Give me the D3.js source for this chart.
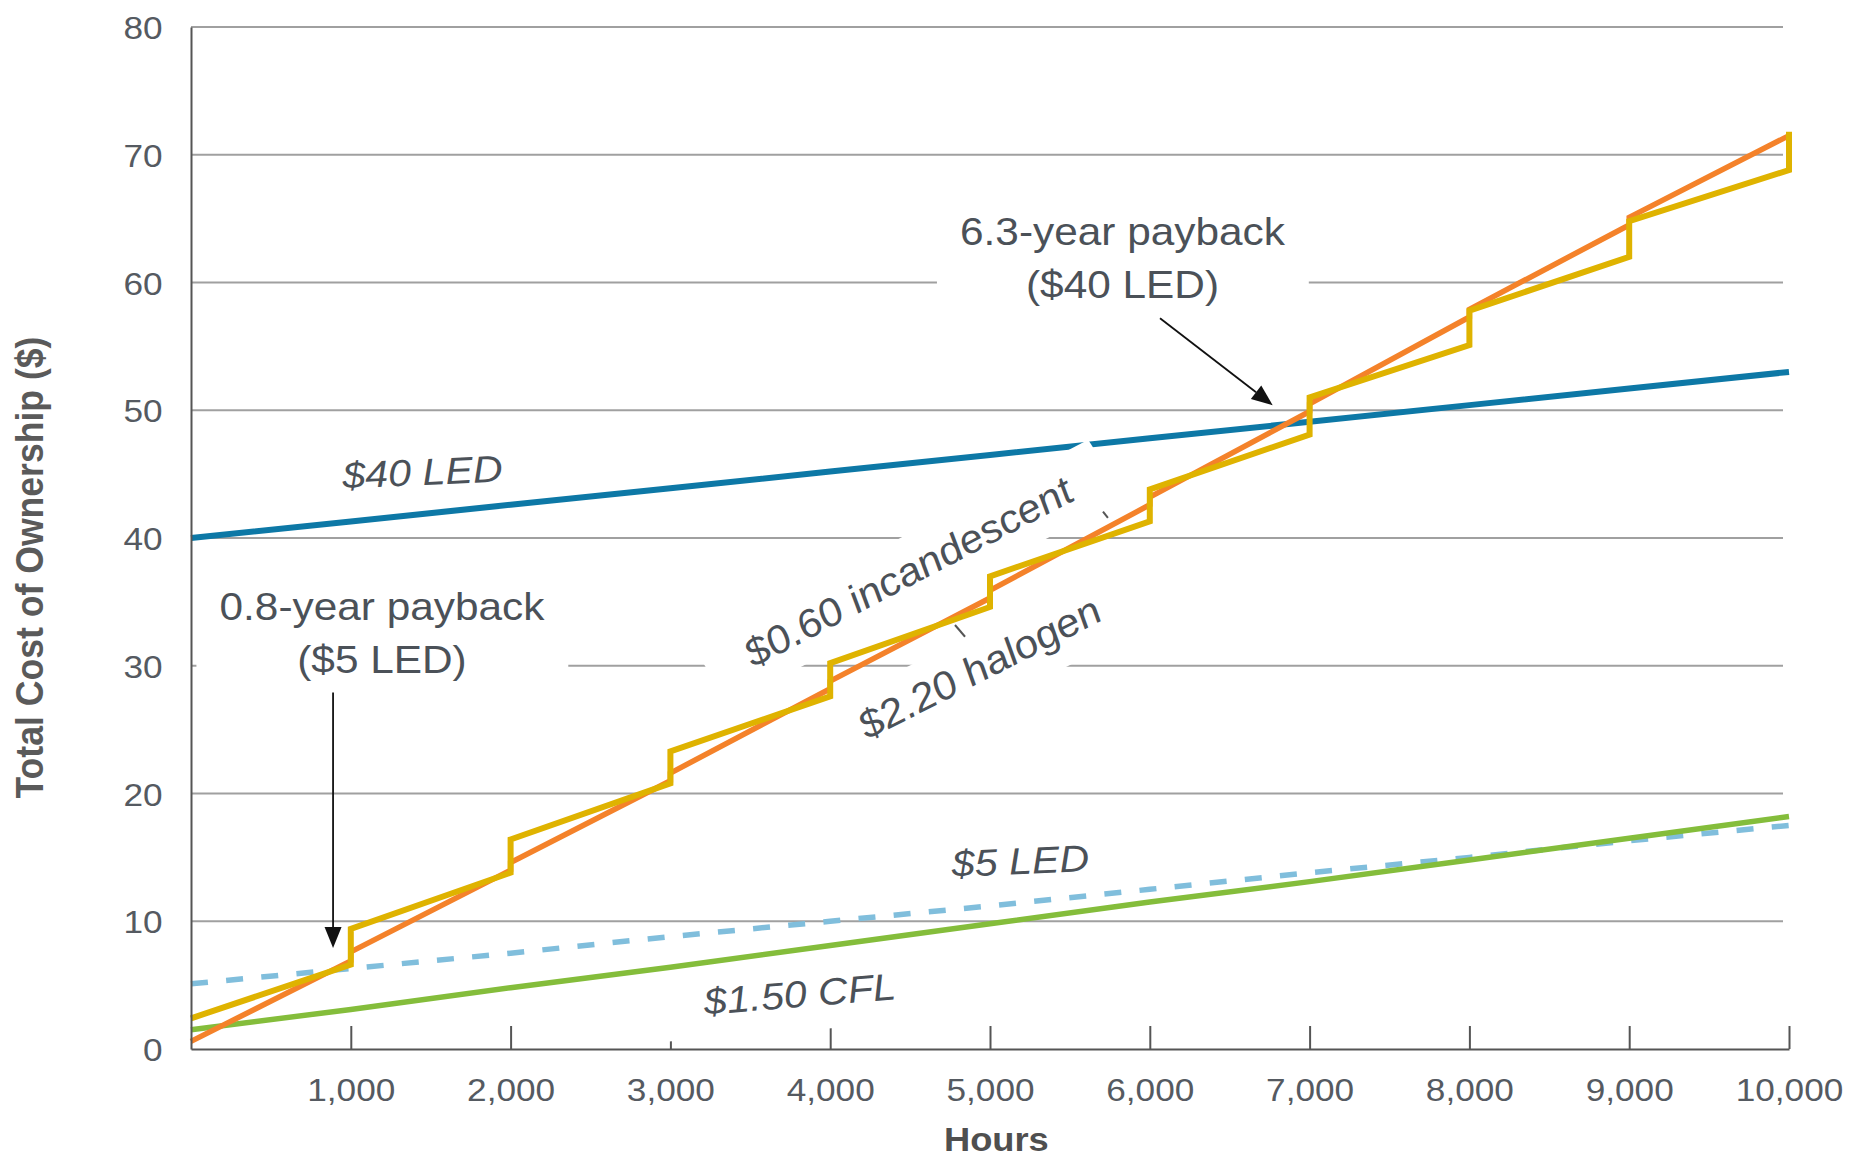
<!DOCTYPE html>
<html>
<head>
<meta charset="utf-8">
<script src="https://cdn.jsdelivr.net/npm/d3@7"></script>
<style>
  html, body { margin: 0; padding: 0; background: #ffffff; }
  svg { display: block; }
</style>
</head>
<body>
<svg id="chart" width="1852" height="1160"></svg>
<script>
// ---- Data -------------------------------------------------------------
// Hours of operation at which each lamp's running cost is read
const hours = [0, 1000, 2000, 3000, 4000, 5000, 6000, 7000, 8000, 9000, 10000];
const xTicks = [1000, 2000, 3000, 4000, 5000, 6000, 7000, 8000, 9000, 10000];
const yTicks = [0, 10, 20, 30, 40, 50, 60, 70, 80];

// Total cost of ownership ($) for the long-life lamps
const led40Cost = [40.0, 41.3, 42.6, 43.9, 45.2, 46.5, 47.8, 49.1, 50.4, 51.7, 53.0];
const led5Cost  = [5.1, 6.3, 7.5, 8.8, 10.0, 11.2, 12.5, 13.8, 15.0, 16.3, 17.5];
const cflCost   = [1.5, 3.1, 4.8, 6.4, 8.1, 9.8, 11.5, 13.1, 14.8, 16.5, 18.2];

// Short-life lamps: cost just before and just after each bulb replacement
const incandescentStart = 0.6;
const incandescentSwapHours = [1000, 2000, 3000, 4000, 5000, 6000, 7000, 8000, 9000];
const incandescentBefore = [6.9, 14.0, 21.0, 28.2, 35.3, 42.6, 49.9, 57.3, 64.5];
const incandescentAfter  = [7.6, 14.6, 21.6, 28.8, 35.9, 43.2, 50.5, 57.9, 65.1];
const incandescentEnd = [10000, 71.5];

const halogenStart = 2.4;
const halogenSwapHours = [1000, 2000, 3000, 4000, 5000, 6000, 7000, 8000, 9000, 10000];
const halogenBefore = [6.6, 13.8, 20.8, 27.6, 34.6, 41.3, 48.1, 55.1, 62.0, 68.8];
const halogenAfter  = [9.4, 16.4, 23.3, 30.2, 37.0, 43.8, 51.0, 57.8, 64.8, 71.8];

// ---- Layout & style ---------------------------------------------------
const FONT = '"Liberation Sans", Arial, Helvetica, sans-serif';
const SX = 1.1;                 // horizontal stretch applied to all lettering
const TEXT = "#4b5158";
const AXIS = "#555555";
const GRID = "#a0a0a0";
const gridEnd = 1783;

const svg = d3.select("#chart").attr("font-family", FONT);

const x = d3.scaleLinear().domain([0, 10000]).range([191, 1789]);
const y = d3.scaleLinear().domain([0, 80]).range([1049, 27]);

// ---- Gridlines ---------------------------------------------------------
svg.append("g")
  .selectAll("line")
  .data(yTicks.filter(d => d > 0))
  .join("line")
  .attr("x1", x(0)).attr("x2", gridEnd)
  .attr("y1", d => y(d)).attr("y2", d => y(d))
  .attr("stroke", GRID).attr("stroke-width", 2);

// ---- Series ------------------------------------------------------------
const line = d3.line().x(d => x(d[0])).y(d => y(d[1]));
const pairs = vals => hours.map((h, i) => [h, vals[i]]);

function stepped(start, swaps, before, after, end) {
  const pts = [[0, start]];
  swaps.forEach((h, i) => { pts.push([h, before[i]], [h, after[i]]); });
  if (end) pts.push(end);
  return pts;
}

const series = [
  { pts: pairs(led5Cost), color: "#80bedc", width: 5.5, dash: "17,18.3" },
  { pts: pairs(cflCost), color: "#84bd3b", width: 5.5 },
  { pts: pairs(led40Cost), color: "#0d78a6", width: 6 },
  { pts: stepped(incandescentStart, incandescentSwapHours, incandescentBefore, incandescentAfter, incandescentEnd), color: "#f4822a", width: 5.5 },
  { pts: stepped(halogenStart, halogenSwapHours, halogenBefore, halogenAfter, null), color: "#dfb300", width: 6 }
];

svg.append("g")
  .selectAll("path")
  .data(series)
  .join("path")
  .attr("d", d => line(d.pts))
  .attr("fill", "none")
  .attr("stroke", d => d.color)
  .attr("stroke-width", d => d.width)
  .attr("stroke-linejoin", "miter")
  .attr("stroke-dasharray", d => d.dash || null);

// ---- Axes --------------------------------------------------------------
const xAxis = d3.axisBottom(x)
  .tickValues(xTicks)
  .tickFormat(d3.format(","))
  .tickSizeInner(-23)
  .tickSizeOuter(0);

svg.append("g")
  .attr("transform", `translate(0,${y(0)})`)
  .call(xAxis)
  .attr("font-family", FONT)
  .attr("font-size", 32)
  .call(g => {
    g.select(".domain").attr("stroke", AXIS).attr("stroke-width", 2);
    g.selectAll(".tick line").attr("stroke", AXIS).attr("stroke-width", 2);
    g.selectAll(".tick text")
      .attr("y", 52).attr("dy", null)
      .attr("transform", `scale(${SX},1)`)
      .attr("fill", "#555a61");
  });

const yAxis = d3.axisLeft(y)
  .tickValues(yTicks)
  .tickSize(0)
  .tickPadding(0);

svg.append("g")
  .attr("transform", `translate(${x(0)},0)`)
  .call(yAxis)
  .attr("font-family", FONT)
  .attr("font-size", 32)
  .call(g => {
    g.select(".domain").attr("stroke", AXIS).attr("stroke-width", 2);
    g.selectAll(".tick text")
      .attr("x", -28.4 / SX)
      .attr("dy", "0.36em")
      .attr("transform", `scale(${SX},1)`)
      .attr("fill", "#555a61");
  });

// Axis titles
svg.append("g")
  .attr("transform", `translate(42.9,567.5) scale(${SX},1) rotate(-90)`)
  .append("text")
  .attr("text-anchor", "middle")
  .attr("font-weight", "bold")
  .attr("font-size", 35.6)
  .attr("fill", "#5a5a5a")
  .text("Total Cost of Ownership ($)");

svg.append("g")
  .attr("transform", `translate(${x(5040)},1151) scale(${SX},1)`)
  .append("text")
  .attr("text-anchor", "middle")
  .attr("font-weight", "bold")
  .attr("font-size", 33)
  .attr("fill", "#4f4f4f")
  .text("Hours");

// ---- Leader stubs from the rotated labels -----------------------------
const leaders = [
  [[4781, 33.19], [4844, 32.27]],
  [[5707, 42.06], [5738, 41.57]]
];
svg.append("g")
  .selectAll("line")
  .data(leaders)
  .join("line")
  .attr("x1", d => x(d[0][0])).attr("y1", d => y(d[0][1]))
  .attr("x2", d => x(d[1][0])).attr("y2", d => y(d[1][1]))
  .attr("stroke", "#555").attr("stroke-width", 2);

// ---- Series labels (italic, along their lines) ------------------------
// padTop / padBottom: white backing around the lettering, in text units
const seriesLabels = [
  { text: "$40 LED", h: 1452, v: 44.15, angle: 2.5, anchor: "middle", size: 37.5, box: false },
  { text: "$5 LED", h: 5194, v: 13.7, angle: 2.4, anchor: "middle", size: 37.5, box: false },
  { text: "$1.50 CFL", h: 3817, v: 3.29, angle: 4.7, anchor: "middle", size: 37.5, box: true, padTop: 11, padBottom: 16 },
  { text: "$0.60 incandescent", h: 3525, v: 29.85, angle: 27.6, anchor: "start", size: 39, box: true, padTop: 11, padBottom: 12 },
  { text: "$2.20 halogen", h: 4236, v: 24.2, angle: 27.0, anchor: "start", size: 39, box: true, padTop: 11, padBottom: 16 }
];

const toLocal = a => Math.atan(SX * Math.tan(a * Math.PI / 180)) * 180 / Math.PI;

seriesLabels.forEach(l => {
  const g = svg.append("g")
    .attr("transform", `translate(${x(l.h)},${y(l.v)}) scale(${SX},1) rotate(${-toLocal(l.angle)})`);
  const t = g.append("text")
    .attr("text-anchor", l.anchor)
    .attr("font-style", "italic")
    .attr("font-size", l.size)
    .attr("fill", TEXT)
    .text(l.text);
  if (l.box) {
    const b = t.node().getBBox();
    g.insert("rect", "text")
      .attr("x", b.x - 37).attr("y", b.y - l.padTop)
      .attr("width", b.width + 74).attr("height", b.height + l.padTop + l.padBottom)
      .attr("fill", "#ffffff");
  }
});

// ---- Payback call-outs -------------------------------------------------
const callouts = [
  { lines: ["0.8-year payback", "($5 LED)"], h: 1195, v: 33.58, from: [889, 27.9], to: [889, 7.9] },
  { lines: ["6.3-year payback", "($40 LED)"], h: 5829, v: 62.94, from: [6064, 57.2], to: [6769, 50.4] }
];

callouts.forEach(c => {
  const g = svg.append("g").attr("transform", `translate(${x(c.h)},${y(c.v)})`);
  const tg = g.append("g").attr("transform", `scale(${SX},1)`);
  const t = tg.append("text")
    .attr("text-anchor", "middle")
    .attr("font-size", 38.5)
    .attr("fill", TEXT);
  c.lines.forEach((s, i) => {
    t.append("tspan").attr("x", 0).attr("y", i * 53).text(s);
  });
  const b = t.node().getBBox();
  tg.insert("rect", "text")
    .attr("x", b.x - 21).attr("y", b.y - 8)
    .attr("width", b.width + 42).attr("height", b.height + 18)
    .attr("fill", "#ffffff");

  // arrow
  const x1 = x(c.from[0]), y1 = y(c.from[1]);
  const x2 = x(c.to[0]), y2 = y(c.to[1]);
  const len = Math.hypot(x2 - x1, y2 - y1);
  const ux = (x2 - x1) / len, uy = (y2 - y1) / len;
  const headL = 21, headW = 8.5;
  const bx = x2 - ux * headL, by = y2 - uy * headL;
  svg.append("line")
    .attr("x1", x1).attr("y1", y1).attr("x2", bx).attr("y2", by)
    .attr("stroke", "#111").attr("stroke-width", 1.8);
  svg.append("path")
    .attr("d", `M${x2},${y2}L${bx - uy * headW},${by + ux * headW}L${bx + uy * headW},${by - ux * headW}Z`)
    .attr("fill", "#111");
});
</script>
</body>
</html>
